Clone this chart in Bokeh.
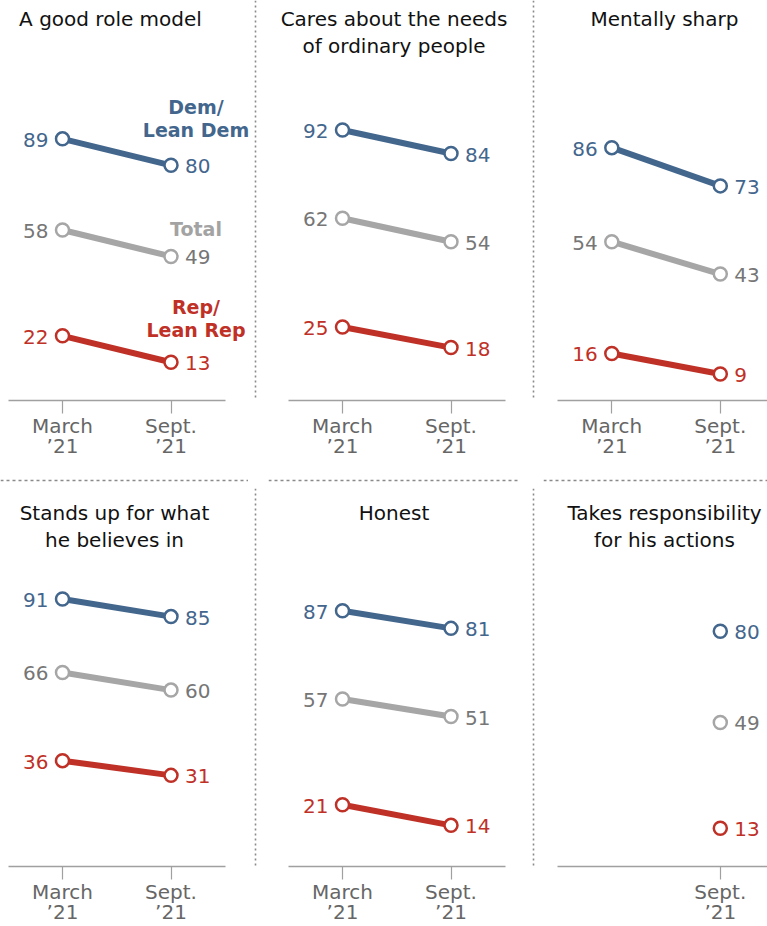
from bokeh.plotting import figure
from bokeh.layouts import column, row
from bokeh.models import ColumnDataSource, FixedTicker, Span, Spacer
from bokeh.core.properties import value
from bokeh.embed import file_html
from bokeh.resources import INLINE

# ---------------- data ----------------
period_ticks = [0, 1]
period_labels = ["March\n\u201921", "Sept.\n\u201921"]

titles = [
    "A good role model",
    "Cares about the needs\nof ordinary people",
    "Mentally sharp",
    "Stands up for what\nhe believes in",
    "Honest",
    "Takes responsibility\nfor his actions",
]
dem_march = [89, 92, 86, 91, 87, None]
dem_sept = [80, 84, 73, 85, 81, 80]
total_march = [58, 62, 54, 66, 57, None]
total_sept = [49, 54, 43, 60, 51, 49]
rep_march = [22, 25, 16, 36, 21, None]
rep_sept = [13, 18, 9, 31, 14, 13]

legend_dem = ["Dem/", "Lean Dem"]
legend_total = ["Total"]
legend_rep = ["Rep/", "Lean Rep"]

# ---------------- style ----------------
FONT = "DejaVu Sans"
DEM = "#43668D"
REP = "#BF3127"
TOT_LINE = "#A6A6A6"
TOT_TEXT = "#767676"
AXIS = "#A0A0A0"
TICKLAB = "#666666"
SEP = "#8A8A8A"
KX = 108.5   # px per period step
KY = 2.94    # px per percentage point

# (march, sept, line colour, number colour, legend lines, legend colour,
#  legend px above Sept point, legend line step)
series = [
    (dem_march, dem_sept, DEM, DEM, legend_dem, DEM, 58, 23),
    (total_march, total_sept, TOT_LINE, TOT_TEXT, legend_total, "#A3A3A3", 27, 0),
    (rep_march, rep_sept, REP, REP, legend_rep, REP, 55, 23),
]


def make_panel(k, fig_w, fig_h, frame_h, march_px, title_cx, title_dy, legend):
    x0 = -march_px / KX
    x1 = (fig_w - march_px) / KX
    y1 = frame_h / KY
    p = figure(width=fig_w, height=fig_h, x_range=(x0, x1), y_range=(0, y1),
               output_backend="svg", toolbar_location=None, y_axis_location=None,
               min_border_left=0, min_border_right=0, min_border_top=0,
               min_border_bottom=fig_h - frame_h, outline_line_color=None,
               background_fill_color="white", border_fill_color="white")
    p.xgrid.visible = False
    p.ygrid.visible = False

    ax = p.xaxis[0]
    ticks = period_ticks if dem_march[k] is not None else period_ticks[1:]
    ax.ticker = FixedTicker(ticks=ticks)
    ax.major_label_overrides = {t: lab for t, lab in zip(period_ticks, period_labels)}
    ax.bounds = (-0.5, min(1.5, x1))
    ax.axis_line_color = AXIS
    ax.axis_line_width = 1.5
    ax.major_tick_line_color = AXIS
    ax.major_tick_line_width = 1.2
    ax.major_tick_out = 13
    ax.major_tick_in = 0
    ax.minor_tick_out = 0
    ax.minor_tick_in = 0
    ax.major_label_standoff = 0
    ax.major_label_text_font = FONT
    ax.major_label_text_font_size = "20px"
    ax.major_label_text_color = TICKLAB
    ax.major_label_text_line_height = 0.85

    # title
    tsrc = ColumnDataSource(dict(x=[(title_cx - march_px) / KX], y=[y1], t=[titles[k]]))
    p.text("x", "y", text="t", source=tsrc, text_align="center", text_baseline="top",
           y_offset=title_dy, text_font=value(FONT), text_font_size="20px",
           text_color="#111111", text_line_height=1.16)

    for m_vals, s_vals, lc, tc, leg, legc, leg_dy, leg_step in series:
        pts = [(t, v) for t, v in zip(period_ticks, (m_vals[k], s_vals[k])) if v is not None]
        xs = [a for a, _ in pts]
        ys = [b for _, b in pts]
        src = ColumnDataSource(dict(x=xs, y=ys))
        if len(xs) > 1:
            p.line("x", "y", source=src, line_color=lc, line_width=6)
        p.scatter("x", "y", source=src, size=13, fill_color="white",
                  line_color=lc, line_width=2.5)
        if m_vals[k] is not None:
            msrc = ColumnDataSource(dict(x=[period_ticks[0]], y=[m_vals[k]], t=[str(m_vals[k])]))
            p.text("x", "y", text="t", source=msrc, text_align="right", text_baseline="middle",
                   x_offset=-14, y_offset=1, text_font=value(FONT), text_font_size="20px",
                   text_color=tc)
        ssrc = ColumnDataSource(dict(x=[period_ticks[1]], y=[s_vals[k]], t=[str(s_vals[k])]))
        p.text("x", "y", text="t", source=ssrc, text_align="left", text_baseline="middle",
               x_offset=14, y_offset=1, text_font=value(FONT), text_font_size="20px",
               text_color=tc)
        if legend:
            for i, line_txt in enumerate(leg):
                one = ColumnDataSource(dict(x=[period_ticks[1]], y=[s_vals[k]], t=[line_txt]))
                p.text("x", "y", text="t", source=one, text_align="center",
                       text_baseline="alphabetic", x_offset=25,
                       y_offset=-(leg_dy - leg_step * i),
                       text_font=value(FONT), text_font_size="19px",
                       text_font_style="bold", text_color=legc)
    return p


def vsep(h):
    s = figure(width=8, height=h, x_range=(0, 1), y_range=(0, 1), output_backend="svg",
               toolbar_location=None, min_border=0, x_axis_location=None,
               y_axis_location=None, outline_line_color=None)
    s.grid.visible = False
    s.add_layout(Span(location=0.5, dimension="height", line_color=SEP,
                      line_width=1.6, line_dash="2 3"))
    return s


def hsep(w, h):
    s = figure(width=w, height=h, x_range=(0, 1), y_range=(0, 1), output_backend="svg",
               toolbar_location=None, min_border=0, x_axis_location=None,
               y_axis_location=None, outline_line_color=None)
    s.grid.visible = False
    s.add_layout(Span(location=0.5, dimension="width", line_color=SEP,
                      line_width=1.6, line_dash="3 3"))
    return s


# column geometry (figure widths, March tick px inside figure)
W = [251, 270, 230]
MARCH = [62, 83, 74.3]
ROW1_H, ROW1_FRAME = 472, 400
ROW2_H, ROW2_FRAME = 438, 378
HSEP_H = 16

top_title_cx = [110, 134.5, 127]
bot_title_cx = [114, 134.5, 127]

p1 = make_panel(0, W[0], ROW1_H, ROW1_FRAME, MARCH[0], top_title_cx[0], 6, True)
p2 = make_panel(1, W[1], ROW1_H, ROW1_FRAME, MARCH[1], top_title_cx[1], 6, False)
p3 = make_panel(2, W[2], ROW1_H, ROW1_FRAME, MARCH[2], top_title_cx[2], 6, False)
p4 = make_panel(3, W[0], ROW2_H, ROW2_FRAME, MARCH[0], bot_title_cx[0], 12, False)
p5 = make_panel(4, W[1], ROW2_H, ROW2_FRAME, MARCH[1], bot_title_cx[1], 12, False)
p6 = make_panel(5, W[2], ROW2_H, ROW2_FRAME, MARCH[2], bot_title_cx[2], 12, False)

mid = row(hsep(248, HSEP_H), Spacer(width=20, height=HSEP_H), hsep(252, HSEP_H),
          Spacer(width=23, height=HSEP_H), hsep(224, HSEP_H))

layout = column(
    row(p1, vsep(ROW1_H), p2, vsep(ROW1_H), p3),
    mid,
    row(p4, vsep(ROW2_H), p5, vsep(ROW2_H), p6),
)

open("out.html", "w").write(file_html(layout, INLINE))
